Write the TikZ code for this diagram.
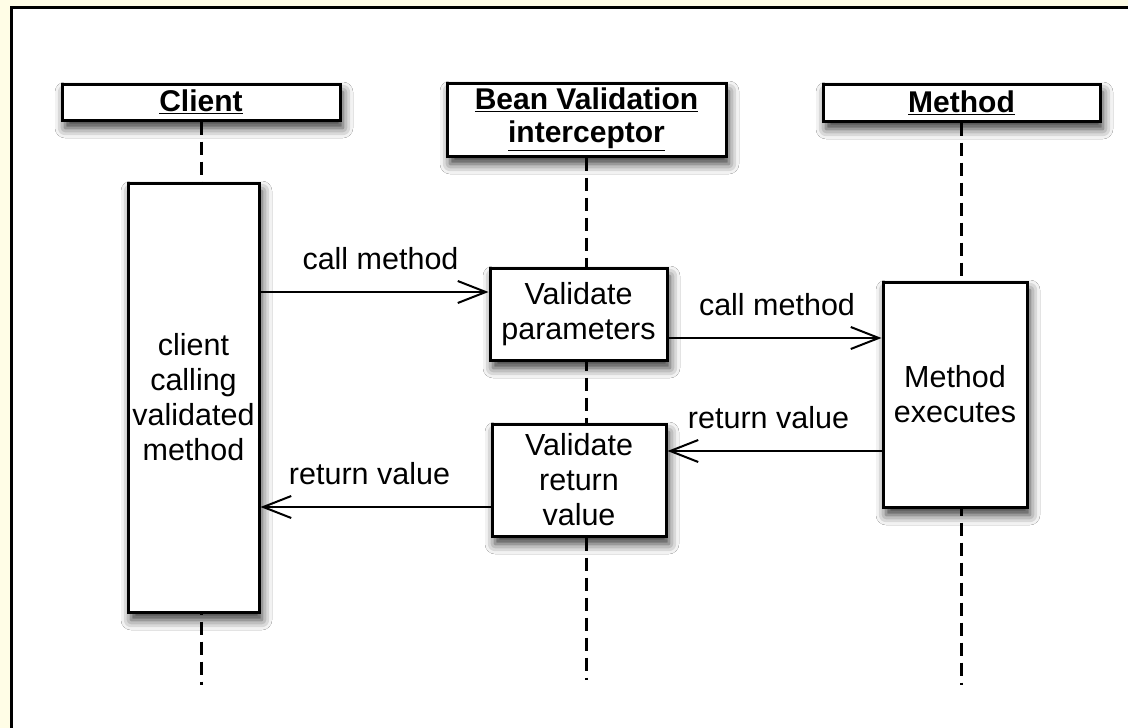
\documentclass[tikz,border=0pt]{standalone}
\usepackage{fontspec}
\setmainfont{Liberation Sans}
\usetikzlibrary{arrows.meta,shadows.blur}

\definecolor{pagebg}{HTML}{FFFDE6}

\begin{document}
\begin{tikzpicture}[x=1pt,y=-1pt,
  softshadow/.style={blur shadow={shadow xshift=3pt, shadow yshift=-8pt,
      shadow blur radius=10pt, shadow opacity=80}},
  headbox/.style={draw, line width=3pt, fill=white, softshadow,
      inner sep=0pt, align=center, font=\fontsize{30}{33}\selectfont\bfseries},
  actbox/.style={draw, line width=3pt, fill=white, softshadow,
      inner sep=0pt, align=center, font=\fontsize{30.5}{35}\selectfont},
  lifeline/.style={line width=3pt, dash pattern=on 13pt off 7pt},
  msg/.style={line width=2pt,
      -{Straight Barb[length=28pt, width=22pt, line width=2pt]}},
  msglabel/.style={fill=white, inner sep=2pt, above=19pt,
      font=\fontsize{30.5}{35}\selectfont}]

  % page and frame
  \useasboundingbox (0,0) rectangle (1128,728);
  \fill[pagebg] (0,0) rectangle (1128,728);
  \fill[white] (11,7) rectangle (1128,728);
  \draw[line width=3pt] (11.5,728) -- (11.5,7.5) -- (1128,7.5);

  % lifeline heads
  \node[headbox, minimum width=278pt, minimum height=36pt] (hdrClient)
    at (201,102) {\underline{Client}};
  \node[headbox, minimum width=279pt, minimum height=73pt] (hdrBV)
    at (586.5,119.5) {\underline{Bean Validation}\\\underline{interceptor}};
  \node[headbox, minimum width=277pt, minimum height=37pt] (hdrMethod)
    at (961.5,102.5) {\underline{Method}};

  % lifeline ends
  \coordinate (endClient) at (201,685);
  \coordinate (endBV) at (586.5,680);
  \coordinate (endMethod) at (961.5,685);

  % dashed lifelines
  \draw[lifeline] (hdrClient.south) -- (endClient);
  \draw[lifeline] (hdrBV.south) -- (endBV);
  \draw[lifeline] (hdrMethod.south) -- (endMethod);

  % activation boxes
  \node[actbox, minimum width=131pt, minimum height=429pt] (actClient)
    at (193.5,397.5) {client\\calling\\validated\\method};
  \node[actbox, minimum width=177pt, minimum height=92pt] (valParams)
    at (578.5,314) {Validate\\parameters};
  \node[actbox, minimum width=174pt, minimum height=112pt] (valReturn)
    at (579,480) {Validate\\return\\value};
  \node[actbox, minimum width=144pt, minimum height=225pt] (actMethod)
    at (955,394.5) {Method\\executes};

  % messages
  \draw[msg] (actClient.east |- 0,292) -- (valParams.west |- 0,292)
    node[msglabel, midway, xshift=6pt] (lblCall1) {call method};
  \draw[msg] (valParams.east |- 0,338) -- (actMethod.west |- 0,338)
    node[msglabel, midway, xshift=2pt] (lblCall2) {call method};
  \draw[msg] (actMethod.west |- 0,451) -- (valReturn.east |- 0,451)
    node[msglabel, midway, xshift=-6pt] (lblRet1) {return value};
  \draw[msg] (valReturn.west |- 0,507) -- (actClient.east |- 0,507)
    node[msglabel, midway, xshift=-6pt] (lblRet2) {return value};
\end{tikzpicture}
\end{document}
